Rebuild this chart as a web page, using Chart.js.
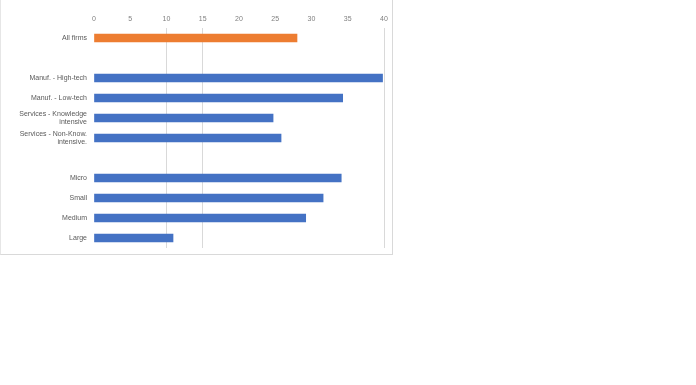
<!DOCTYPE html>
<html>
<head>
<meta charset="utf-8">
<script src="https://cdn.jsdelivr.net/npm/chart.js@4"></script>
<style>
html,body{margin:0;padding:0;background:#fff;}
#wrap{position:absolute;left:0;top:0;width:393px;height:255px;border-left:1px solid #e6e6e6;border-right:1px solid #d9d9d9;border-bottom:1px solid #d9d9d9;box-sizing:border-box;}
canvas{display:block;}
</style>
</head>
<body>
<div id="wrap"><canvas id="c" width="391" height="254"></canvas></div>
<script>
const categories = [
  "All firms",
  "",
  "Manuf. - High-tech",
  "Manuf. - Low-tech",
  ["Services - Knowledge", "intensive"],
  ["Services - Non-Know.", "intensive."],
  "",
  "Micro",
  "Small",
  "Medium",
  "Large"
];
const values = [28.0, null, 39.8, 34.3, 24.7, 25.8, null, 34.1, 31.6, 29.2, 10.9];
const barColors = ["#ED7D31", null, "#4472C4", "#4472C4", "#4472C4", "#4472C4", null, "#4472C4", "#4472C4", "#4472C4", "#4472C4"];
const xTicks = [0, 5, 10, 15, 20, 25, 30, 35, 40];
const visibleGrid = [10, 15, 40];

new Chart(document.getElementById('c'), {
  type: 'bar',
  data: {
    labels: categories,
    datasets: [{
      data: values,
      backgroundColor: barColors,
      barThickness: 8
    }]
  },
  options: {
    indexAxis: 'y',
    responsive: false,
    animation: false,
    layout: { padding: { left: 0, right: 8, top: 0, bottom: 6 } },
    plugins: { legend: { display: false }, tooltip: { enabled: false } },
    scales: {
      x: {
        position: 'top',
        min: 0, max: 40,
        afterBuildTicks: (s) => { s.ticks = xTicks.map(v => ({ value: v })); },
        afterFit: (s) => { s.height = 28; s.paddingLeft = 0; s.paddingRight = 0; },
        border: { display: false },
        grid: {
          drawTicks: false,
          color: (ctx) => visibleGrid.includes(ctx.tick && ctx.tick.value) ? '#d9d9d9' : 'rgba(0,0,0,0)'
        },
        ticks: { color: '#7f7f7f', font: { family: 'Liberation Sans', size: 7 }, padding: 5 }
      },
      y: {
        afterFit: (s) => { s.width = 93; s.paddingTop = 0; s.paddingBottom = 0; },
        border: { display: false },
        grid: { display: false, drawTicks: false },
        ticks: { color: '#595959', font: { family: 'Liberation Sans', size: 7 }, padding: 7, autoSkip: false }
      }
    }
  }
});
</script>
</body>
</html>
